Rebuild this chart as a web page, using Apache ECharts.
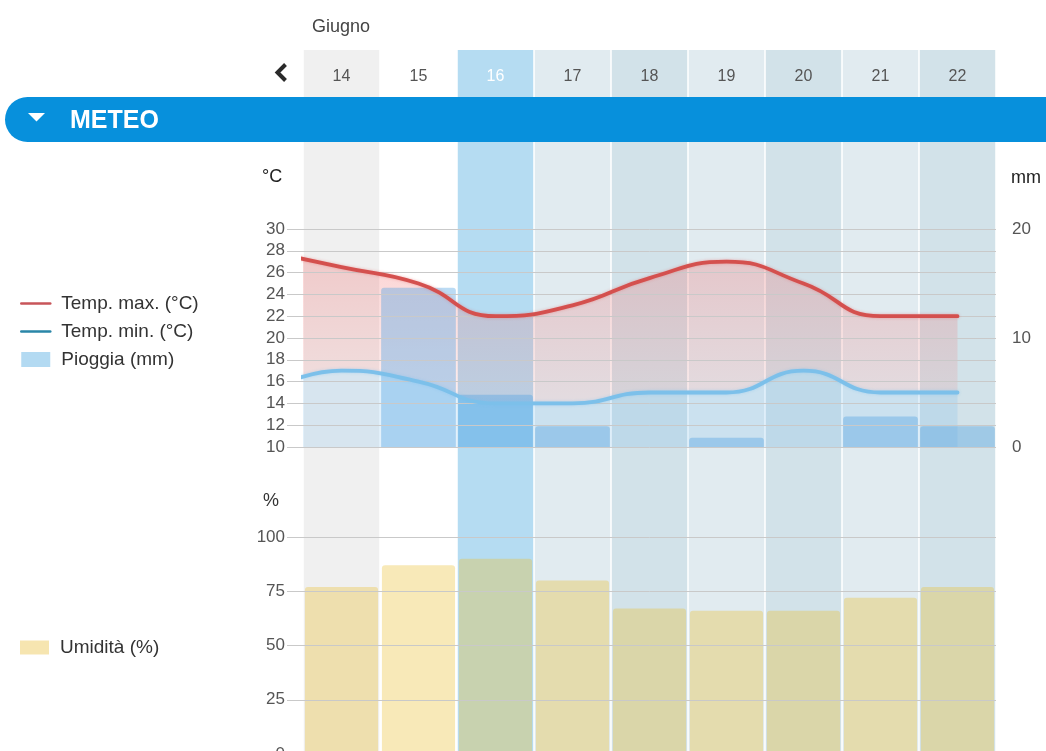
<!DOCTYPE html>
<html>
<head>
<meta charset="utf-8">
<style>
html,body{margin:0;padding:0;background:#fff;}
#chart{width:1046px;height:751px;}
</style>
<script src="https://cdn.jsdelivr.net/npm/echarts@6/dist/echarts.min.js"></script>
</head>
<body>
<div id="chart"></div>
<script>
// ---- data ----
const monthLabel = 'Giugno';
const days = ['14', '15', '16', '17', '18', '19', '20', '21', '22'];
const selectedDay = '16';
// line data includes day 13, which is only partly visible at the left edge
const lineDays = ['13', '14', '15', '16', '17', '18', '19', '20', '21', '22'];
const tempMax = [28, 26.5, 25, 22, 23, 25.5, 27, 25, 22, 22];
const tempMin = [15, 17, 16, 14, 14, 15, 15, 17, 15, 15];
const rain = [0, 14.6, 4.8, 1.9, 0, 0.85, 0, 2.8, 1.9];
const humidity = [77, 87, 90, 80, 67, 66, 66, 72, 77];
const tempTicks = { min: 10, max: 30, step: 2 };
const rainTicks = { min: 0, max: 20, step: 10 };
const humTicks = { min: 0, max: 100, step: 25 };

// ---- styles ----
const colBg = ['#f0f0f0', '#ffffff', '#b5dcf2', '#e1ebf0', '#d2e2e9', '#e1ebf0', '#d2e2e9', '#e1ebf0', '#d2e2e9'];
const FONT = "'Liberation Sans', Arial, sans-serif";
const gridColor = '#c9c9c9';
const labelColor = '#555';

const band = tempMax.map((v, i) => v - tempMin[i]);

const chart = echarts.init(document.getElementById('chart'), null, { renderer: 'canvas' });

const valueAxis = (grid, t, extra) => Object.assign({
  type: 'value', gridIndex: grid, min: t.min, max: t.max, interval: t.step, z: 4,
  axisLine: { show: false },
  axisTick: { show: true, length: 16, lineStyle: { color: gridColor } },
  splitLine: { show: true, lineStyle: { color: gridColor, width: 1 } },
  axisLabel: { fontSize: 17, color: labelColor, margin: 18, fontFamily: FONT }
}, extra || {});

const noSymbol = { color: 'rgba(0,0,0,0)', borderWidth: 0, opacity: 0 };

const option = {
  animation: false,
  textStyle: { fontFamily: FONT },
  grid: [
    { left: 303, top: 50, width: 693, height: 701, outerBoundsMode: 'none', containLabel: false },
    { left: 303, top: 229, width: 693, height: 218, outerBoundsMode: 'none', containLabel: false },
    { left: 303, top: 537, width: 693, height: 217, outerBoundsMode: 'none', containLabel: false }
  ],
  xAxis: [
    {
      type: 'category', gridIndex: 0, data: days, position: 'top',
      axisLine: { show: false }, axisTick: { show: false }, splitLine: { show: false },
      axisLabel: {
        inside: true, margin: 19, fontSize: 16, fontFamily: FONT,
        color: (v) => (v === selectedDay ? '#ffffff' : labelColor)
      }
    },
    { type: 'category', gridIndex: 1, data: lineDays, min: 1, show: false },
    { type: 'category', gridIndex: 1, data: days, show: false },
    { type: 'category', gridIndex: 2, data: days, show: false }
  ],
  yAxis: [
    { type: 'value', gridIndex: 0, min: 0, max: 1, show: false },
    valueAxis(1, tempTicks),
    {
      type: 'value', gridIndex: 1, position: 'right', min: rainTicks.min, max: rainTicks.max, interval: rainTicks.step,
      axisLine: { show: false }, axisTick: { show: false }, splitLine: { show: false },
      axisLabel: { fontSize: 17, color: labelColor, margin: 16, fontFamily: FONT }
    },
    valueAxis(2, humTicks)
  ],
  legend: [
    {
      left: 15, top: 289, orient: 'vertical', itemWidth: 29, itemHeight: 15, itemGap: 9,
      selectedMode: false,
      textStyle: { fontSize: 19, color: '#333', padding: [0, 0, 0, 6], fontFamily: FONT },
      data: [
        { name: 'Temp. max. (°C)', lineStyle: { color: '#c8555a', width: 2.5 }, itemStyle: noSymbol },
        { name: 'Temp. min. (°C)', lineStyle: { color: '#2a86a8', width: 2.5 }, itemStyle: noSymbol },
        { name: 'Pioggia (mm)', icon: 'rect', itemStyle: { color: '#b3daf2' } }
      ]
    },
    {
      left: 15, top: 633, orient: 'vertical', itemWidth: 29, itemHeight: 14,
      selectedMode: false,
      textStyle: { fontSize: 19, color: '#333', padding: [0, 0, 0, 6], fontFamily: FONT },
      data: [{ name: 'Umidità (%)', icon: 'rect', itemStyle: { color: '#f6e5b0' } }]
    }
  ],
  series: [
    {
      type: 'bar', name: 'bg', xAxisIndex: 0, yAxisIndex: 0, silent: true, z: 0,
      barCategoryGap: '2%',
      data: days.map((d, i) => ({ value: 1, itemStyle: { color: colBg[i] } }))
    },
    {
      type: 'line', name: 'minArea', xAxisIndex: 1, yAxisIndex: 1, stack: 'temp', silent: true, z: 2,
      data: tempMin, smooth: true, symbol: 'none', showSymbol: false,
      lineStyle: { width: 0 },
      areaStyle: { color: 'rgba(110,185,235,0.28)', origin: 'start' }
    },
    {
      type: 'line', name: 'band', xAxisIndex: 1, yAxisIndex: 1, stack: 'temp', silent: true, z: 2,
      data: band, smooth: true, symbol: 'none', showSymbol: false,
      lineStyle: { width: 0 },
      areaStyle: {
        color: new echarts.graphic.LinearGradient(0, 0, 0, 1, [
          { offset: 0, color: 'rgba(240,100,100,0.40)' },
          { offset: 1, color: 'rgba(240,115,115,0.18)' }
        ])
      }
    },
    {
      type: 'bar', name: 'Pioggia (mm)', xAxisIndex: 2, yAxisIndex: 2, z: 3,
      data: rain, barCategoryGap: '3%',
      itemStyle: { color: 'rgba(75,160,225,0.38)', borderRadius: [3, 3, 0, 0] }
    },
    {
      type: 'line', name: 'Temp. max. (°C)', xAxisIndex: 1, yAxisIndex: 1, z: 5,
      data: tempMax, smooth: true, symbol: 'none', showSymbol: false,
      lineStyle: { color: '#d4504e', width: 3.8, cap: 'round', shadowColor: 'rgba(230,90,90,0.45)', shadowBlur: 3 }
    },
    {
      type: 'line', name: 'Temp. min. (°C)', xAxisIndex: 1, yAxisIndex: 1, z: 5,
      data: tempMin, smooth: true, symbol: 'none', showSymbol: false,
      lineStyle: { color: '#7cc0ea', width: 3.8, cap: 'round', shadowColor: 'rgba(120,190,240,0.45)', shadowBlur: 3 }
    },
    {
      type: 'bar', name: 'Umidità (%)', xAxisIndex: 3, yAxisIndex: 3, z: 3,
      data: humidity, barCategoryGap: '5%',
      itemStyle: { color: 'rgba(235,192,52,0.35)', borderRadius: [3, 3, 0, 0] }
    }
  ],
  graphic: [
    {
      type: 'text', x: 312, y: 27, z: 100,
      style: { text: monthLabel, fontSize: 18, fontFamily: FONT, fill: '#444', textVerticalAlign: 'middle', verticalAlign: 'middle' }
    },
    {
      type: 'polyline', z: 100,
      shape: { points: [[285.5, 64.5], [277.5, 72.5], [285.5, 80.5]] },
      style: { stroke: '#2a2a2a', lineWidth: 4, fill: 'none', lineCap: 'butt', lineJoin: 'miter' }
    },
    {
      type: 'rect', z: 100,
      shape: { x: 5, y: 97, width: 1060, height: 45, r: [22.5, 0, 0, 22.5] },
      style: { fill: '#0790dc' }
    },
    {
      type: 'polygon', z: 101,
      shape: { points: [[28, 113], [45, 113], [36.5, 121.5]] },
      style: { fill: '#ffffff' }
    },
    {
      type: 'text', x: 70, y: 121, z: 101,
      style: { text: 'METEO', fontSize: 25, fontWeight: 'bold', fontFamily: FONT, fill: '#ffffff', textVerticalAlign: 'middle', verticalAlign: 'middle' }
    },
    {
      type: 'text', x: 262, y: 177, z: 100,
      style: { text: '°C', fontSize: 18, fontFamily: FONT, fill: '#222', textVerticalAlign: 'middle', verticalAlign: 'middle' }
    },
    {
      type: 'text', x: 1011, y: 178, z: 100,
      style: { text: 'mm', fontSize: 18, fontFamily: FONT, fill: '#222', textVerticalAlign: 'middle', verticalAlign: 'middle' }
    },
    {
      type: 'text', x: 263, y: 501, z: 100,
      style: { text: '%', fontSize: 18, fontFamily: FONT, fill: '#333', textVerticalAlign: 'middle', verticalAlign: 'middle' }
    }
  ]
};

chart.setOption(option);
</script>
</body>
</html>
